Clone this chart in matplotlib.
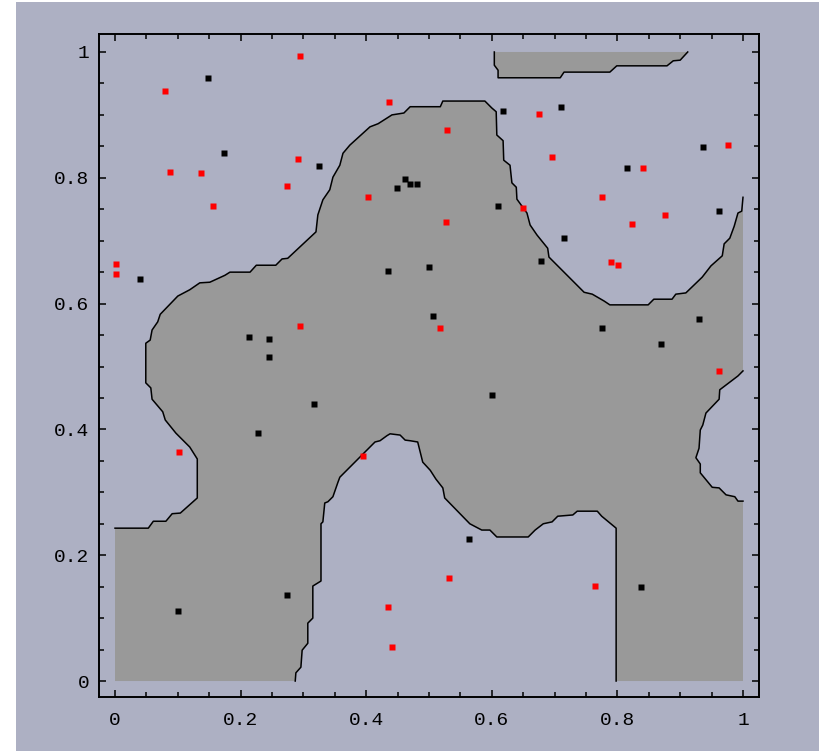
import numpy as np
import matplotlib.pyplot as plt
from matplotlib.patches import Rectangle

# boundary of the shaded region (interior curve, data coords)
main_x = [0.000, 0.053, 0.061, 0.081, 0.091, 0.104, 0.131, 0.131, 0.119, 0.097,
          0.080, 0.076, 0.059, 0.057, 0.049, 0.049, 0.056, 0.059, 0.068, 0.072,
          0.100, 0.119, 0.135, 0.151, 0.175, 0.183, 0.215, 0.225, 0.256, 0.266,
          0.275, 0.320, 0.323, 0.331, 0.342, 0.347, 0.358, 0.363, 0.374, 0.406,
          0.419, 0.441, 0.460, 0.470, 0.518, 0.522, 0.589, 0.600, 0.607, 0.608,
          0.618, 0.619, 0.629, 0.632, 0.639, 0.640, 0.656, 0.661, 0.672, 0.689,
          0.691, 0.747, 0.760, 0.779, 0.788, 0.849, 0.858, 0.887, 0.893, 0.909,
          0.935, 0.949, 0.967, 0.970, 0.979, 0.986, 0.992, 0.998, 1.000]
main_y = [0.243, 0.243, 0.254, 0.254, 0.266, 0.267, 0.291, 0.353, 0.372, 0.394,
          0.415, 0.428, 0.448, 0.466, 0.474, 0.537, 0.542, 0.558, 0.571, 0.583,
          0.612, 0.622, 0.633, 0.634, 0.645, 0.650, 0.650, 0.661, 0.661, 0.671,
          0.672, 0.714, 0.741, 0.765, 0.781, 0.801, 0.820, 0.839, 0.852, 0.881,
          0.886, 0.900, 0.903, 0.913, 0.913, 0.922, 0.922, 0.911, 0.905, 0.868,
          0.859, 0.828, 0.820, 0.792, 0.785, 0.766, 0.744, 0.725, 0.709, 0.688,
          0.674, 0.618, 0.615, 0.604, 0.598, 0.598, 0.607, 0.607, 0.615, 0.617,
          0.642, 0.660, 0.676, 0.695, 0.704, 0.723, 0.744, 0.747, 0.769]

notch_x = [1.000, 0.992, 0.963, 0.962, 0.941, 0.936, 0.932, 0.930, 0.925, 0.932,
           0.932, 0.951, 0.962, 0.973, 0.987, 0.992, 1.000]
notch_y = [0.493, 0.485, 0.463, 0.448, 0.426, 0.407, 0.399, 0.370, 0.355, 0.345,
           0.331, 0.308, 0.307, 0.296, 0.293, 0.286, 0.286]

low_x = [0.798, 0.798, 0.775, 0.768, 0.736, 0.729, 0.705, 0.696, 0.682, 0.669,
         0.658, 0.608, 0.597, 0.584, 0.565, 0.525, 0.522, 0.511, 0.502, 0.490,
         0.482, 0.470, 0.462, 0.454, 0.438, 0.433, 0.422, 0.414, 0.390, 0.358,
         0.355, 0.347, 0.339, 0.334, 0.331, 0.328, 0.328, 0.315, 0.315, 0.307,
         0.307, 0.298, 0.296, 0.288, 0.287]
low_y = [0.000, 0.243, 0.262, 0.270, 0.270, 0.264, 0.262, 0.253, 0.250, 0.240,
         0.229, 0.229, 0.240, 0.240, 0.250, 0.291, 0.307, 0.321, 0.335, 0.348,
         0.380, 0.382, 0.383, 0.391, 0.393, 0.390, 0.382, 0.380, 0.356, 0.324,
         0.316, 0.293, 0.285, 0.283, 0.253, 0.250, 0.159, 0.151, 0.100, 0.092,
         0.060, 0.049, 0.022, 0.013, 0.000]

top_x = [0.604, 0.604, 0.610, 0.610, 0.616, 0.709, 0.715, 0.788, 0.799, 0.879,
         0.889, 0.900, 0.912]
top_y = [1.000, 0.979, 0.971, 0.959, 0.959, 0.959, 0.968, 0.968, 0.978, 0.978,
         0.986, 0.987, 1.000]

red_x = [0.295, 0.080, 0.436, 0.088, 0.137, 0.156, 0.291, 0.274, 0.403, 0.002,
         0.002, 0.295, 0.529, 0.675, 0.696, 0.650, 0.527, 0.775, 0.841, 0.976,
         0.876, 0.823, 0.790, 0.801, 0.518, 0.962, 0.102, 0.395, 0.434, 0.441,
         0.532, 0.764]
red_y = [0.994, 0.938, 0.921, 0.809, 0.808, 0.755, 0.830, 0.787, 0.769, 0.663,
         0.647, 0.564, 0.876, 0.901, 0.833, 0.752, 0.730, 0.769, 0.815, 0.852,
         0.741, 0.727, 0.666, 0.661, 0.561, 0.493, 0.364, 0.358, 0.118, 0.054,
         0.164, 0.151]

black_x = [0.148, 0.174, 0.325, 0.449, 0.462, 0.470, 0.481, 0.040, 0.434, 0.214,
           0.245, 0.245, 0.618, 0.710, 0.936, 0.815, 0.610, 0.962, 0.715, 0.678,
           0.500, 0.506, 0.775, 0.930, 0.869, 0.600, 0.317, 0.228, 0.274, 0.100,
           0.564, 0.838]
black_y = [0.959, 0.839, 0.819, 0.784, 0.798, 0.790, 0.790, 0.639, 0.652, 0.547,
           0.544, 0.515, 0.906, 0.913, 0.849, 0.815, 0.755, 0.747, 0.704, 0.668,
           0.658, 0.580, 0.561, 0.575, 0.536, 0.455, 0.440, 0.394, 0.137, 0.111,
           0.226, 0.149]

ticks = [0, 0.2, 0.4, 0.6, 0.8, 1]
tick_labels = ["0", "0.2", "0.4", "0.6", "0.8", "1"]

bg = "#adb0c3"
shade = "#999999"

fig = plt.figure(figsize=(8.19, 7.51), dpi=100)
fig.patch.set_facecolor(bg)
# thin white strips on the left and top edges
fig.patches.append(Rectangle((0, 0), 16 / 819, 1, transform=fig.transFigure,
                             facecolor="white", edgecolor="none"))
fig.patches.append(Rectangle((0, 1 - 2 / 751), 1, 2 / 751, transform=fig.transFigure,
                             facecolor="white", edgecolor="none"))

ax = fig.add_axes([99 / 819, 54 / 751, 660 / 819, 663 / 751])
ax.set_facecolor(bg)

# filled region: curve, right edge, notch, right edge, bottom, lower curve, bottom, left edge
poly_x = main_x + notch_x + [1.0] + low_x + [0.0]
poly_y = main_y + notch_y + [0.0] + low_y + [0.0]
ax.fill(poly_x, poly_y, color=shade, lw=0, zorder=1)
ax.fill(top_x, top_y, color=shade, lw=0, zorder=1)

for xs, ys in [(main_x, main_y), (notch_x, notch_y), (low_x, low_y), (top_x, top_y)]:
    ax.plot(xs, ys, color="black", lw=1.1, zorder=2)

ax.plot(red_x, red_y, ls="none", marker="s", ms=4.5, mfc="#ff0000", mec="none", zorder=3)
ax.plot(black_x, black_y, ls="none", marker="s", ms=4.0, mfc="black", mec="none", zorder=3)

ax.set_xlim(-0.0255, 1.0255)
ax.set_ylim(-0.0254, 1.0286)
ax.set_xticks(ticks)
ax.set_xticklabels(tick_labels)
ax.set_yticks(ticks)
ax.set_yticklabels(tick_labels)
ax.set_xticks(np.arange(0, 1.001, 0.05), minor=True)
ax.set_yticks(np.arange(0, 1.001, 0.05), minor=True)
ax.tick_params(which="both", direction="in", top=True, right=True, width=1.1, color="black")
ax.tick_params(which="major", length=5)
ax.tick_params(which="minor", length=3.5)
ax.tick_params(axis="x", which="major", pad=11)
ax.tick_params(axis="y", which="major", pad=7)
for lab in ax.get_xticklabels() + ax.get_yticklabels():
    lab.set_fontfamily("Liberation Mono")
    lab.set_fontsize(14)
for sp in ax.spines.values():
    sp.set_linewidth(1.4)

plt.savefig("out.png", dpi=100, facecolor=fig.get_facecolor())
